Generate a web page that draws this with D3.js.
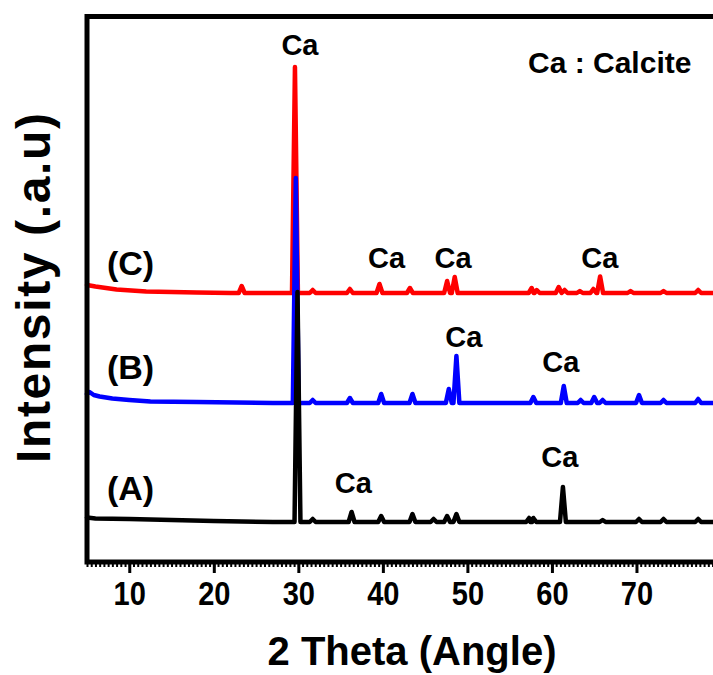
<!DOCTYPE html>
<html>
<head>
<meta charset="utf-8">
<script src="https://cdn.jsdelivr.net/npm/d3@7"></script>
<style>
  body { margin: 0; background: #fff; }
  text { font-family: "Liberation Sans", Arial, sans-serif; font-weight: bold; fill: #000; }
</style>
</head>
<body>
<div id="chart"></div>
<script>
// XRD patterns, 2 theta in degrees, intensity in a.u. (stacked with offsets)

// baseline (left hump) of each pattern
var baseA = [[5, 9], [6, 7], [10, 6], [15, 4], [20, 2], [27, 0]];
var baseB = [[5, 18], [5.3, 22], [5.8, 16], [6.5, 13], [8, 9], [10, 6], [12.5, 3], [18, 2], [27, 0]];
var baseC = [[5, 16], [6, 13], [8.5, 7], [12, 3], [18, 1], [22, 0]];

// peaks [2 theta, intensity]
var peaksA = [[29.9, 460], [31.7, 6], [36.3, 20], [39.8, 12], [43.5, 16], [46.0, 6], [47.6, 12], [48.7, 16],
              [57.3, 8], [57.8, 8], [61.3, 70], [66.0, 4], [70.3, 6], [73.2, 6], [77.3, 6]];
var peaksB = [[29.7, 450], [31.7, 6], [36.1, 10], [39.8, 18], [43.5, 18], [47.8, 28], [48.7, 94],
              [57.8, 12], [61.4, 34], [63.4, 6], [65.0, 12], [66.0, 6], [70.3, 16], [73.2, 6], [77.3, 8]];
var peaksC = [[23.3, 14], [29.6, 452], [31.7, 6], [36.1, 8], [39.6, 18], [43.2, 10], [47.6, 24], [48.5, 32],
              [57.6, 10], [58.2, 6], [60.8, 12], [61.5, 6], [63.3, 4], [64.9, 8], [65.7, 33],
              [69.3, 4], [73.2, 4], [77.3, 6]];

// vertical offsets used for stacking
var offsets = {A: 80, B: 318, C: 538};

// series labels [2 theta, intensity, text]
var seriesLabels = [[7.36, 575, "(C)"], [7.36, 366, "(B)"], [7.36, 125, "(A)"]];

// peak annotations [2 theta, intensity, text]
var peakLabels = [
    [30.19, 1014, "Ca"],
    [40.44, 588, "Ca"], [48.31, 588, "Ca"], [65.67, 588, "Ca"],
    [49.57, 430, "Ca"], [61.05, 380, "Ca"],
    [36.51, 138, "Ca"], [60.93, 190, "Ca"]
];
var legendText = [57.17, 979, "Ca : Calcite"];

var xTicks = [10, 20, 30, 40, 50, 60, 70];

var width = 713;
var height = 675;
var plotLeft = 87, plotRight = 721, plotTop = 16.5, plotBottom = 562;

var svg = d3.select("#chart").append("svg")
    .attr("width", width)
    .attr("height", height);

var x = d3.scaleLinear().domain([5, 80]).range([plotLeft, plotRight]);
var y = d3.scaleLinear().domain([0, 1091]).range([plotBottom, plotTop]);

// Build a point list from the baseline and the peaks
function buildSeries(base, peaks) {
    var hw = 0.35;
    var pts = base.slice();
    peaks.forEach(function(p) {
        pts.push([p[0] - hw, 0], [p[0], p[1]], [p[0] + hw, 0]);
    });
    pts.push([80, 0]);
    return pts.sort(function(a, b) { return a[0] - b[0]; });
}

var series = [
    {name: "C", color: "#ff0000", pts: buildSeries(baseC, peaksC)},
    {name: "B", color: "#0000ff", pts: buildSeries(baseB, peaksB)},
    {name: "A", color: "#000000", pts: buildSeries(baseA, peaksA)}
];

// minor ticks
svg.append("g")
    .attr("transform", "translate(0," + plotBottom + ")")
    .call(d3.axisBottom(x).tickValues(d3.range(5, 80.01, 0.5)).tickSize(5).tickFormat(""))
    .call(function(g) {
        g.select(".domain").remove();
        g.selectAll(".tick line").attr("stroke-width", 2);
    });

// major ticks
svg.append("g")
    .attr("transform", "translate(0," + plotBottom + ")")
    .call(d3.axisBottom(x).tickValues(xTicks).tickSize(11))
    .call(function(g) {
        g.select(".domain").remove();
        g.selectAll(".tick line").attr("stroke-width", 3);
        g.selectAll(".tick text")
            .attr("y", 43)
            .attr("dy", null)
            .attr("transform", "scale(0.88,1)")
            .attr("font-size", 33)
            .attr("font-family", "'Liberation Sans', Arial, sans-serif")
            .attr("font-weight", "bold");
    });

// lines
var line = d3.line()
    .x(function(d) { return x(d[0]); });

series.forEach(function(s) {
    svg.append("path")
        .datum(s.pts)
        .attr("d", line.y(function(d) { return y(d[1] + offsets[s.name]); }))
        .attr("fill", "none")
        .attr("stroke", s.color)
        .attr("stroke-width", 4.5)
        .attr("stroke-linejoin", "round")
        .attr("stroke-linecap", "round");
});

// frame
svg.append("rect")
    .attr("x", plotLeft)
    .attr("y", plotTop)
    .attr("width", plotRight - plotLeft)
    .attr("height", plotBottom - plotTop)
    .attr("fill", "none")
    .attr("stroke", "#000")
    .attr("stroke-width", 5);

// series labels
svg.selectAll(".slabel")
    .data(seriesLabels)
    .enter().append("text")
    .attr("class", "slabel")
    .attr("x", function(d) { return x(d[0]); })
    .attr("y", function(d) { return y(d[1]); })
    .style("font-size", "34px")
    .text(function(d) { return d[2]; });

// peak labels
svg.selectAll(".plabel")
    .data(peakLabels)
    .enter().append("text")
    .attr("class", "plabel")
    .attr("x", function(d) { return x(d[0]); })
    .attr("y", function(d) { return y(d[1]); })
    .attr("text-anchor", "middle")
    .style("font-size", "29px")
    .text(function(d) { return d[2]; });

svg.append("text")
    .attr("x", x(legendText[0]))
    .attr("y", y(legendText[1]))
    .style("font-size", "30px")
    .text(legendText[2]);

// axis titles
svg.append("text")
    .attr("x", 412)
    .attr("y", 665)
    .attr("text-anchor", "middle")
    .style("font-size", "40px")
    .text("2 Theta (Angle)");

svg.append("text")
    .attr("transform", "translate(50,288) rotate(-90)")
    .attr("text-anchor", "middle")
    .attr("textLength", 350)
    .attr("lengthAdjust", "spacing")
    .style("font-size", "48px")
    .text("Intensity (.a.u)");
</script>
</body>
</html>
